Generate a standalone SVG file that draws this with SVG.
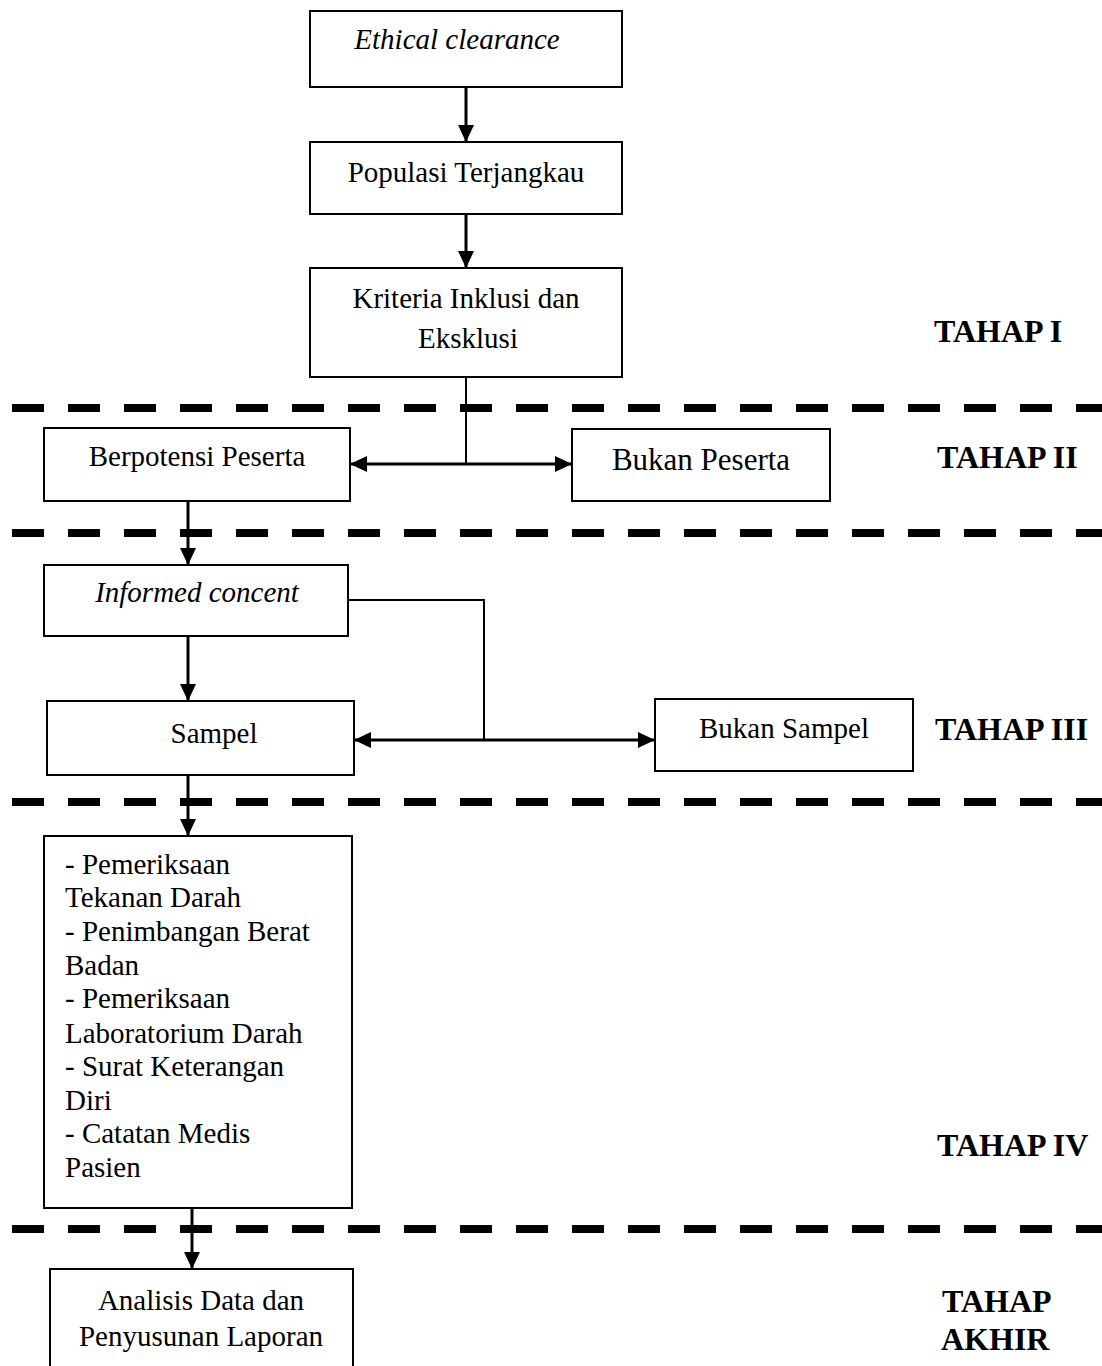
<svg xmlns="http://www.w3.org/2000/svg" width="1102" height="1366" viewBox="0 0 1102 1366">
<style>
.box{fill:#fff;stroke:#000;stroke-width:2}
.t{font-family:"Liberation Serif","Times New Roman",serif;font-size:29px;fill:#000}
.c{text-anchor:middle}
.i{font-style:italic}
.b{font-weight:bold;font-size:32px}
.dash{stroke:#000;stroke-width:8;stroke-dasharray:32 24;fill:none}
.ln{stroke:#000;stroke-width:3;fill:none}
.thin{stroke:#000;stroke-width:2;fill:none}
</style>
<defs>
<marker id="ah" markerWidth="17" markerHeight="16" refX="17" refY="8" orient="auto-start-reverse" markerUnits="userSpaceOnUse"><path d="M0,0 L17,8 L0,16 Z" fill="#000"/></marker>
</defs>
<rect width="1102" height="1366" fill="#fff"/>

<g id="dividers">
<line class="dash" x1="12" y1="408" x2="1102" y2="408"/>
<line class="dash" x1="12" y1="533" x2="1102" y2="533"/>
<line class="dash" x1="12" y1="802" x2="1102" y2="802"/>
<line class="dash" x1="12" y1="1229" x2="1102" y2="1229"/>
</g>

<g id="connectors">
<line class="ln" x1="466" y1="87" x2="466" y2="142" marker-end="url(#ah)"/>
<line class="ln" x1="466" y1="214" x2="466" y2="268" marker-end="url(#ah)"/>
<line class="thin" x1="466" y1="377" x2="466" y2="464"/>
<line class="ln" x1="350" y1="464" x2="572" y2="464" marker-start="url(#ah)" marker-end="url(#ah)"/>
<line class="ln" x1="188" y1="501" x2="188" y2="565" marker-end="url(#ah)"/>
<polyline class="thin" points="348,600 484,600 484,740"/>
<line class="ln" x1="188" y1="636" x2="188" y2="701" marker-end="url(#ah)"/>
<line class="ln" x1="354" y1="740" x2="655" y2="740" marker-start="url(#ah)" marker-end="url(#ah)"/>
<line class="ln" x1="188" y1="775" x2="188" y2="836" marker-end="url(#ah)"/>
<line class="ln" x1="192" y1="1208" x2="192" y2="1269" marker-end="url(#ah)"/>
</g>

<g id="n-ethical">
<rect class="box" x="310" y="11" width="312" height="76"/>
<text class="t c i" x="457" y="49">Ethical clearance</text>
</g>
<g id="n-populasi">
<rect class="box" x="310" y="142" width="312" height="72"/>
<text class="t c" x="466" y="182">Populasi Terjangkau</text>
</g>
<g id="n-kriteria">
<rect class="box" x="310" y="268" width="312" height="109"/>
<text class="t c" x="466" y="308">Kriteria Inklusi dan</text>
<text class="t c" x="468" y="348">Eksklusi</text>
</g>
<g id="n-berpotensi">
<rect class="box" x="44" y="428" width="306" height="73"/>
<text class="t c" x="197" y="466">Berpotensi Peserta</text>
</g>
<g id="n-bukanpeserta">
<rect class="box" x="572" y="429" width="258" height="72"/>
<text class="t c" x="701" y="470" style="font-size:31px">Bukan Peserta</text>
</g>
<g id="n-informed">
<rect class="box" x="44" y="565" width="304" height="71"/>
<text class="t c i" x="197" y="602">Informed concent</text>
</g>
<g id="n-sampel">
<rect class="box" x="47" y="701" width="307" height="74"/>
<text class="t c" x="214" y="743">Sampel</text>
</g>
<g id="n-bukansampel">
<rect class="box" x="655" y="699" width="258" height="72"/>
<text class="t c" x="784" y="738">Bukan Sampel</text>
</g>
<g id="n-pemeriksaan">
<rect class="box" x="44" y="836" width="308" height="372"/>
<text class="t" x="65" y="874">- Pemeriksaan</text>
<text class="t" x="65" y="907">Tekanan Darah</text>
<text class="t" x="65" y="941">- Penimbangan Berat</text>
<text class="t" x="65" y="975">Badan</text>
<text class="t" x="65" y="1008">- Pemeriksaan</text>
<text class="t" x="65" y="1043">Laboratorium Darah</text>
<text class="t" x="65" y="1076">- Surat Keterangan</text>
<text class="t" x="65" y="1110">Diri</text>
<text class="t" x="65" y="1143">- Catatan Medis</text>
<text class="t" x="65" y="1177">Pasien</text>
</g>
<g id="n-analisis">
<rect class="box" x="50" y="1269" width="303" height="110"/>
<text class="t c" x="201" y="1310">Analisis Data dan</text>
<text class="t c" x="201" y="1346">Penyusunan Laporan</text>
</g>

<g id="labels">
<text class="t b" x="934" y="342">TAHAP I</text>
<text class="t b" x="937" y="468">TAHAP II</text>
<text class="t b" x="935" y="740">TAHAP III</text>
<text class="t b" x="937" y="1156">TAHAP IV</text>
<text class="t b" x="942" y="1312">TAHAP</text>
<text class="t b" x="941" y="1350">AKHIR</text>
</g>
</svg>
